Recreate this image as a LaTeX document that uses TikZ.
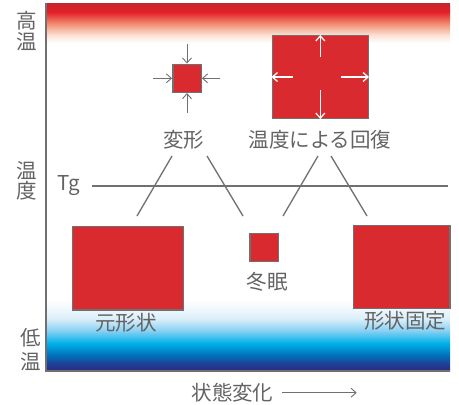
\documentclass[tikz,border=0pt]{standalone}
\usepackage{fontspec}
\setmainfont{Noto Sans CJK JP}
\usetikzlibrary{arrows.meta}
\definecolor{txtgray}{HTML}{636363}
\definecolor{linegray}{HTML}{707070}
\definecolor{boxred}{HTML}{D92B2F}
\definecolor{rdark}{HTML}{C4262D}
\definecolor{rbright}{HTML}{E41E26}
\definecolor{rsalmon}{HTML}{F39479}
\definecolor{rpale}{HTML}{FCE0D4}
\definecolor{bpale}{HTML}{DCEFFA}
\definecolor{blight}{HTML}{8ED3F3}
\definecolor{bcyan}{HTML}{00B0EA}
\definecolor{bmid}{HTML}{0070B8}
\definecolor{bdeep}{HTML}{1F3F95}
\definecolor{bnavy}{HTML}{2B2A7E}
\pgfdeclareverticalshading{redband}{100bp}{color(0bp)=(white); color(25bp)=(white); color(35bp)=(rpale); color(48bp)=(rsalmon); color(64bp)=(rbright); color(75bp)=(rdark); color(100bp)=(rdark)}
\pgfdeclareverticalshading{blueband}{100bp}{color(0bp)=(bnavy); color(25bp)=(bnavy); color(30bp)=(bdeep); color(36bp)=(bmid); color(44.5bp)=(bcyan); color(54bp)=(blight); color(62bp)=(bpale); color(75bp)=(white); color(100bp)=(white)}
\tikzset{
  lbl/.style={text=txtgray, font=\fontsize{20.5}{22}\selectfont, inner sep=0pt},
  redbox/.style={draw=linegray, fill=boxred, line width=1.5pt, inner sep=0pt},
  guide/.style={draw=linegray, line width=1.3pt},
  squeeze/.style={draw=linegray, line width=0.9pt, -{Straight Barb[length=5pt,width=9pt]}},
  expand/.style={draw=white, line width=1.3pt, -{Straight Barb[length=5pt,width=9pt]}},
}
\begin{document}
\begin{tikzpicture}[x=1pt,y=-1pt]
\useasboundingbox (0,0) rectangle (459,405);
% background bands
\fill[shading=redband] (46,3) rectangle (450,43);
\fill[shading=blueband] (46,300) rectangle (450,371);
% axes
\draw[linegray, line width=1.5pt] (46,3) -- (46,371) -- (450,371);
% axis labels
\node[lbl] (hi1) at (26.5,21) {高};
\node[lbl] (hi2) at (26.5,42) {温};
\node[lbl] (mid1) at (27,171) {温};
\node[lbl] (mid2) at (27,191) {度};
\node[lbl] (lo1) at (30.5,338) {低};
\node[lbl] (lo2) at (30.5,362) {温};
% Tg line
\node[lbl] (tg) at (68.5,186) {Tg};
\coordinate (tgs) at (92,186);
\coordinate (tge) at (448,186);
\draw[guide] (tgs) -- (tge);
% boxes
\node[redbox, minimum width=28.5pt, minimum height=28pt] (deform) at (187,78.3) {};
\node[redbox, minimum width=96pt, minimum height=82.6pt] (recover) at (320.3,77) {};
\node[redbox, minimum width=110.6pt, minimum height=83.3pt] (orig) at (128,268.3) {};
\node[redbox, minimum width=28.3pt, minimum height=28.4pt] (sleep) at (264.2,247.5) {};
\node[redbox, minimum width=96.7pt, minimum height=82.6pt] (fixed) at (401.7,267) {};
% squeeze arrows
\coordinate (sqT) at (187,44);
\coordinate (sqB) at (187,113);
\coordinate (sqL) at (153,78.3);
\coordinate (sqR) at (220,78.3);
\draw[squeeze] (sqT) -- (deform.north);
\draw[squeeze] (sqB) -- (deform.south);
\draw[squeeze] (sqL) -- (deform.west);
\draw[squeeze] (sqR) -- (deform.east);
% expand arrows
\coordinate (exT) at (320.3,57);
\coordinate (exB) at (320.3,90);
\coordinate (exL) at (293,77);
\coordinate (exR) at (341,77);
\draw[expand] (exT) -- (recover.north);
\draw[expand] (exB) -- (recover.south);
\draw[expand] (exL) -- (recover.west);
\draw[expand] (exR) -- (recover.east);
% labels
\node[lbl] (ldeform) at (184,140) {変形};
\node[lbl] (lrecover) at (320,140) {温度による回復};
\node[lbl] (lsleep) at (267,282) {冬眠};
\node[lbl] (lorig) at (126,323) {元形状};
\node[lbl] (lfixed) at (405,321) {形状固定};
% diagonal guides
\coordinate (d1a) at (172,156); \coordinate (d1b) at (137,216);
\coordinate (d2a) at (207,156); \coordinate (d2b) at (243,216);
\coordinate (d3a) at (318,156); \coordinate (d3b) at (283,216);
\coordinate (d4a) at (331,156); \coordinate (d4b) at (367,216);
\draw[guide] (d1a) -- (d1b);
\draw[guide] (d2a) -- (d2b);
\draw[guide] (d3a) -- (d3b);
\draw[guide] (d4a) -- (d4b);
% x axis label
\node[lbl] (xlab) at (232.5,393) {状態変化};
\coordinate (xas) at (281.7,392.7);
\coordinate (xae) at (356.7,392.7);
\draw[squeeze] (xas) -- (xae);
\end{tikzpicture}
\end{document}
